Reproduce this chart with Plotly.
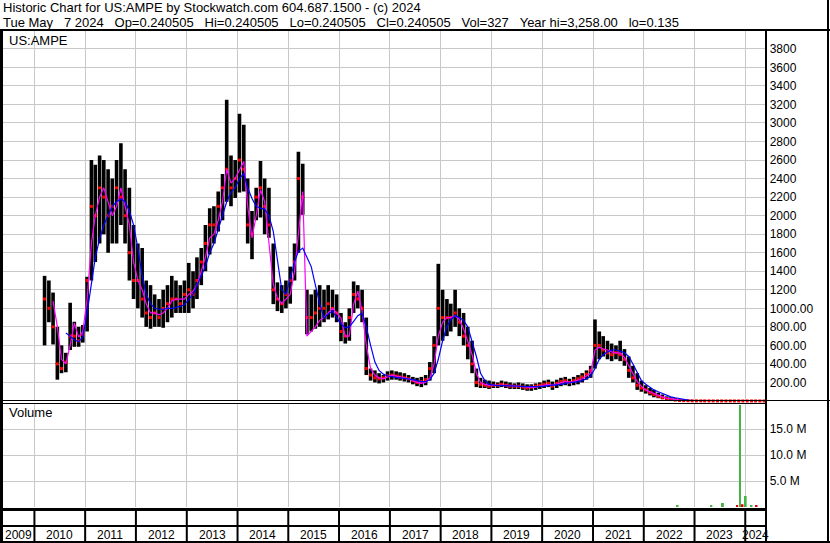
import pandas as pd
import plotly.graph_objects as go

# monthly price summary (Mar 2010 .. May 2024)
high = [
    1350, 1300, 1170, 800, 600, 520, 1060, 855, 800, 820,  # 2010
    1340, 2600, 2550, 2650, 2600, 2500, 2400, 2600, 2780, 2500, 2300, 1900,  # 2011
    1700, 1650, 1300, 1250, 1150, 1100, 1200, 1250, 1350, 1300, 1250, 1300,  # 2012
    1490, 1400, 1550, 1650, 1900, 2080, 2100, 2260, 2450, 3250, 2650, 2600,  # 2013
    3100, 2980, 2400, 2050, 2300, 2590, 2400, 2300, 1700, 1280, 1250, 1300,  # 2014
    1450, 1700, 2690, 2560, 1200, 1150, 1200, 1250, 1200, 1250, 1200, 1150,  # 2015
    950, 850, 1000, 1290, 1250, 1200, 900, 350, 330, 300, 280, 320,  # 2016
    330, 320, 310, 300, 280, 260, 250, 260, 280, 420, 700, 1480,  # 2017
    1200, 1100, 1050, 1200, 1000, 950, 800, 650, 350, 250, 230, 220,  # 2018
    210, 200, 220, 210, 200, 190, 200, 190, 180, 180, 190, 200,  # 2019
    220, 230, 210, 230, 250, 260, 240, 260, 280, 300, 330, 380,  # 2020
    880, 750, 700, 650, 620, 600, 650, 560, 480, 380, 300, 220,  # 2021
    170, 140, 120, 90, 70, 50, 40, 30, 20, 12, 8, 5,  # 2022
    4, 3, 3, 2, 2, 2, 1.5, 1.5, 1, 1, 1, 1,  # 2023
    0.9, 0.8, 0.6, 0.5, 0.3,  # 2024
]
low = [
    600, 850, 610, 230, 300, 310, 550, 585, 585, 630,
    750, 1300, 1500, 1700, 1800, 1600, 1700, 1700, 1900, 1700, 1300, 1100,
    1000, 900, 800, 780, 800, 800, 790, 850, 900, 950, 950, 950,
    950, 1000, 1100, 1250, 1400, 1580, 1700, 1830, 1950, 2150, 2100, 2190,
    2250, 2260, 1700, 1530, 1950, 1980, 1800, 1760, 1045, 970, 950, 1000,
    1050, 1300, 1600, 2010, 720, 750, 780, 800, 850, 880, 900, 850,
    645, 620, 650, 950, 1000, 850, 280, 220, 200, 190, 200, 220,
    230, 230, 220, 210, 200, 180, 160, 150, 170, 220, 300, 600,
    650, 700, 750, 800, 700, 600, 450, 300, 150, 140, 140, 130,
    140, 140, 150, 140, 130, 130, 130, 120, 110, 110, 120, 130,
    140, 150, 120, 140, 160, 170, 160, 170, 180, 200, 230, 250,
    350, 450, 480, 450, 430, 450, 430, 380, 250, 200, 120, 100,
    80, 60, 40, 30, 20, 10, 5, 3, 2, 1, 1, 0.5,
    0.4, 0.4, 0.3, 0.3, 0.3, 0.3, 0.2, 0.2, 0.2, 0.2, 0.2, 0.2,
    0.2, 0.2, 0.15, 0.14, 0.14,
]
close = [
    1100, 1000, 800, 400, 350, 420, 700, 700, 650, 720,
    1300, 2100, 2000, 2300, 2200, 2000, 2100, 2300, 2200, 2000, 1600, 1300,
    1300, 1100, 950, 900, 950, 900, 1000, 1050, 1100, 1100, 1050, 1150,
    1200, 1150, 1300, 1500, 1700, 1900, 1900, 2100, 2300, 2500, 2300, 2400,
    2600, 2500, 1900, 1800, 2200, 2300, 2100, 1900, 1200, 1100, 1050, 1150,
    1300, 1500, 2400, 2200, 900, 900, 950, 1000, 1000, 1050, 1000, 950,
    750, 700, 900, 1150, 1100, 1000, 350, 280, 250, 240, 250, 270,
    280, 270, 260, 250, 240, 220, 200, 210, 230, 350, 600, 1000,
    900, 900, 900, 950, 850, 700, 600, 400, 200, 180, 170, 160,
    170, 170, 180, 170, 160, 160, 160, 150, 140, 150, 160, 170,
    180, 190, 160, 190, 210, 220, 200, 220, 240, 260, 290, 330,
    600, 600, 550, 520, 500, 520, 500, 450, 330, 250, 170, 140,
    120, 90, 70, 50, 35, 25, 15, 10, 6, 4, 3, 2,
    1.5, 1.2, 1, 1, 0.8, 0.8, 0.6, 0.5, 0.5, 0.4, 0.4, 0.3,
    0.4, 0.3, 0.3, 0.25, 0.24,
]
ma_fast = [
    None, None, 1077, 800, 450, 400, 600, 840, 690, 750,
    1100, 1700, 2000, 2200, 2300, 2150, 2000, 2100, 2300, 2100, 1900, 1500,
    1300, 1200, 1050, 950, 950, 930, 950, 1000, 1080, 1100, 1100, 1100,
    1150, 1185, 1250, 1400, 1550, 1760, 1800, 1950, 2150, 2500, 2350, 2400,
    2500, 2585, 2100, 1760, 2000, 2280, 2150, 1700, 1260, 1110, 1050, 1100,
    1150, 1400, 1800, 2260, 700, 750, 800, 870, 900, 950, 1000, 950,
    894, 700, 700, 1045, 1185, 970, 600, 350, 280, 250, 240, 260,
    280, 270, 260, 250, 240, 220, 200, 190, 200, 250, 400, 700,
    850, 900, 900, 920, 880, 780, 650, 500, 300, 200, 180, 170,
    170, 170, 175, 175, 170, 160, 160, 155, 150, 145, 150, 160,
    170, 180, 170, 180, 195, 210, 200, 210, 225, 240, 270, 300,
    550, 580, 560, 550, 530, 520, 520, 470, 380, 290, 210, 160,
    120, 100, 80, 60, 45, 30, 22, 15, 10, 6, 4, 3,
    2, 1.8, 1.5, 1.2, 1, 1, 0.8, 0.7, 0.6, 0.5, 0.5, 0.4,
    0.4, 0.35, 0.3, 0.28, 0.25,
]
ma_slow = [
    None, None, None, None, None, 735, 700, 660, 640, 690,
    950, 1250, 1550, 1750, 1900, 2000, 2100, 2150, 2180, 2150, 2050, 1900,
    1650, 1350, 1150, 1050, 1000, 990, 990, 1000, 1000, 1010, 1020, 1040,
    1100, 1150, 1250, 1350, 1450, 1600, 1700, 1850, 2000, 2150, 2250, 2300,
    2400, 2455, 2300, 2185, 2100, 2080, 2070, 2000, 1830, 1510, 1200, 1150,
    1325, 1500, 1615, 1650, 1550, 1450, 1250, 1050, 894, 940, 970, 900,
    830, 790, 800, 860, 920, 948, 800, 600, 420, 330, 290, 270,
    260, 255, 250, 245, 240, 230, 220, 210, 210, 230, 300, 450,
    650, 800, 880, 920, 900, 870, 800, 650, 480, 300, 220, 180,
    170, 165, 165, 165, 165, 160, 160, 155, 155, 150, 150, 155,
    160, 165, 170, 170, 180, 190, 195, 200, 210, 220, 240, 270,
    350, 450, 500, 530, 550, 550, 540, 520, 480, 400, 300, 220,
    180, 150, 120, 100, 80, 60, 45, 35, 25, 15, 10, 6,
    4, 3, 2.5, 2, 1.8, 1.5, 1.3, 1.1, 1, 0.9, 0.8, 0.7,
    0.6, 0.5, 0.45, 0.4, 0.35,
]

up_vol_dates = ['2022-09-01', '2023-05-02', '2023-07-24', '2023-11-24', '2024-01-04', '2024-02-15']
up_vol = [0.2e6, 0.2e6, 0.75e6, 19.6e6, 2.1e6, 0.3e6]
down_vol_dates = ['2023-11-04', '2023-12-12', '2024-03-22']
down_vol = [0.35e6, 0.55e6, 0.2e6]

price_ticks = [200, 400, 600, 800, 1000, 1200, 1400, 1600, 1800, 2000,
               2200, 2400, 2600, 2800, 3000, 3200, 3400, 3600, 3800]
price_labels = ['200.00', '400.00', '600.00', '800.00', '1000.00', '1200', '1400', '1600', '1800', '2000',
                '2200', '2400', '2600', '2800', '3000', '3200', '3400', '3600', '3800']
vol_ticks = [5e6, 10e6, 15e6]
vol_labels = ['5.0 M', '10.0 M', '15.0 M']
year_labels = ['2009', '2010', '2011', '2012', '2013', '2014', '2015', '2016',
               '2017', '2018', '2019', '2020', '2021', '2022', '2023', '2024']

title1 = 'Historic Chart for US:AMPE by Stockwatch.com 604.687.1500 - (c) 2024'
sp = '\u00a0' * 3
title2 = sp.join(['Tue May' + sp + '7 2024', 'Op=0.240505', 'Hi=0.240505', 'Lo=0.240505',
                  'Cl=0.240505', 'Vol=327', 'Year hi=3,258.00', 'lo=0.135'])

months = pd.date_range('2010-03-01', '2024-05-01', freq='MS') + pd.Timedelta(days=14)
assert len(months) == len(high) == len(low) == len(close) == len(ma_fast) == len(ma_slow)

W, H = 830, 543
FONT = 'Liberation Sans, Arial, sans-serif'
GRID = '#c8c8c8'
DAY = 86400000


def fx(x):
    return x / W


def fy(y):
    return 1 - y / H


fig = go.Figure()
fig.add_trace(go.Bar(x=months, y=[h - l for h, l in zip(high, low)], base=low,
                     width=26 * DAY, marker=dict(color='black', line_width=0),
                     xaxis='x', yaxis='y'))
fig.add_trace(go.Scatter(x=months, y=close, mode='markers', cliponaxis=False,
                         marker=dict(symbol='square', size=3, color='red'),
                         xaxis='x', yaxis='y'))
fig.add_trace(go.Scatter(x=months, y=ma_fast, mode='lines', line=dict(color='#ff00ff', width=1.2),
                         xaxis='x', yaxis='y'))
fig.add_trace(go.Scatter(x=months, y=ma_slow, mode='lines', line=dict(color='#0000ff', width=1.2),
                         xaxis='x', yaxis='y'))
fig.add_trace(go.Bar(x=up_vol_dates, y=up_vol, width=14 * DAY,
                     marker=dict(color='#44b444', line_width=0), xaxis='x2', yaxis='y2'))
fig.add_trace(go.Bar(x=down_vol_dates, y=down_vol, width=14 * DAY,
                     marker=dict(color='#e00000', line_width=0), xaxis='x2', yaxis='y2'))

xcommon = dict(domain=[fx(3), fx(765.7)], range=['2009-05-20', '2024-05-27'], type='date',
               showgrid=True, gridcolor=GRID, gridwidth=1, dtick='M12', tick0='2010-01-01',
               showticklabels=False, ticks='', zeroline=False, showline=False)
ycommon = dict(side='right', showgrid=True, gridcolor=GRID, gridwidth=1, zeroline=False,
               showline=False, ticks='', tickfont=dict(family=FONT, size=12, color='black'),
               ticklabelstandoff=3)

fig.update_layout(
    width=W, height=H, margin=dict(l=0, r=0, t=0, b=0),
    paper_bgcolor='white', plot_bgcolor='white', showlegend=False, barmode='overlay',
    hovermode=False,
    xaxis=dict(anchor='y', **xcommon),
    xaxis2=dict(anchor='y2', matches='x', **xcommon),
    yaxis=dict(anchor='x', domain=[fy(401), fy(31)], range=[0, 3992],
               tickvals=price_ticks, ticktext=price_labels, **ycommon),
    yaxis2=dict(anchor='x2', domain=[fy(507), fy(403)], range=[0, 20e6],
                tickvals=vol_ticks, ticktext=vol_labels, **ycommon),
)

# frame lines, placed on whole / half pixels so they stay crisp
frame = [
    (0, 30, 830, 30, 2), (1.5, 30, 1.5, 543, 3), (766, 30, 766, 543, 2),
    (828, 0, 828, 543, 2), (0, 400.5, 830, 400.5, 1), (0, 403.5, 766, 403.5, 1),
    (0, 509.5, 766, 509.5, 3), (0, 526, 766, 526, 2), (0, 542, 830, 542, 2),
]
for x0, y0, x1, y1, w in frame:
    fig.add_shape(type='line', xref='paper', yref='paper', x0=fx(x0), x1=fx(x1),
                  y0=fy(y0), y1=fy(y1), line=dict(color='black', width=w))

for yr in year_labels[1:]:
    fig.add_shape(type='line', xref='x', yref='paper', x0=f'{yr}-01-01', x1=f'{yr}-01-01',
                  y0=fy(509), y1=fy(542), line=dict(color='black', width=2))

for yr in year_labels:
    if yr == '2009':
        xd = '2009-09-10'
    elif yr == '2024':
        xd = '2024-03-15'
    else:
        xd = f'{yr}-07-02'
    fig.add_annotation(x=xd, xref='x', y=fy(535), yref='paper', text=yr, showarrow=False,
                       xanchor='center', yanchor='middle', font=dict(family=FONT, size=12, color='black'))

for txt, x, y in [(title1, 1, 7.5), (title2, 1, 22), ('US:AMPE', 7, 40.5), ('Volume', 7, 413)]:
    fig.add_annotation(x=fx(x), xref='paper', y=fy(y), yref='paper', text=txt, showarrow=False,
                       xanchor='left', yanchor='middle', font=dict(family=FONT, size=13, color='black'))

# drop the browser's default page margin so the chart sits at the window corner
fig.write_html('out.html', config={'displayModeBar': False},
               post_script="document.body.style.margin='0';")
